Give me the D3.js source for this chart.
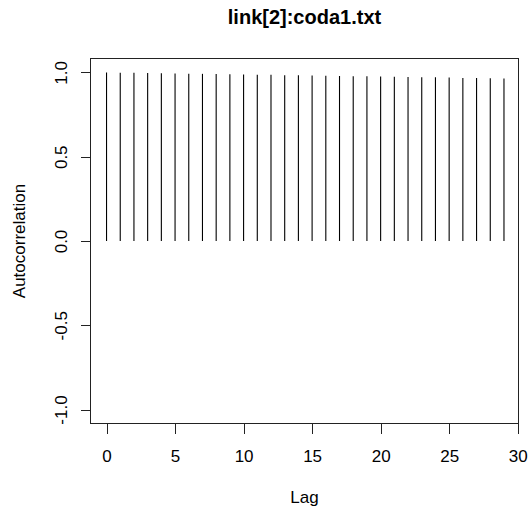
<!DOCTYPE html>
<html>
<head>
<meta charset="utf-8">
<script src="https://cdn.jsdelivr.net/npm/d3@7"></script>
<style>
  html, body { margin: 0; padding: 0; background: #fff; }
  svg { display: block; }
  text { font-family: "Liberation Sans", Arial, sans-serif; fill: #000; }
</style>
</head>
<body>
<svg id="chart" width="528" height="511"></svg>
<script>
// Autocorrelation by lag for link[2]
const lags = d3.range(0, 30);
const acf = [1.000, 0.999, 0.998, 0.997, 0.995, 0.994, 0.993, 0.992, 0.991, 0.989,
             0.988, 0.987, 0.986, 0.984, 0.983, 0.982, 0.981, 0.979, 0.978, 0.977,
             0.976, 0.974, 0.973, 0.972, 0.971, 0.970, 0.968, 0.967, 0.966, 0.965];
const xTicks = [0, 5, 10, 15, 20, 25, 30];
const yTicks = [-1.0, -0.5, 0.0, 0.5, 1.0];
const title = "link[2]:coda1.txt";
const xLabel = "Lag";
const yLabel = "Autocorrelation";

const svg = d3.select("#chart");
const box = { left: 90.5, right: 518.5, top: 58.5, bottom: 423.5 };

const x = d3.scaleLinear().domain([-1.17, 30.06]).range([box.left, box.right]);
const y = d3.scaleLinear().domain([-1.083, 1.083]).range([box.bottom, box.top]);

// spikes from zero
svg.append("g").selectAll("line")
  .data(lags)
  .join("line")
  .attr("x1", (d) => x(d)).attr("x2", (d) => x(d))
  .attr("y1", y(0)).attr("y2", (d, i) => y(acf[i]))
  .attr("stroke", "#000").attr("stroke-width", 1.1);

// plot frame
svg.append("rect")
  .attr("x", box.left).attr("y", box.top)
  .attr("width", box.right - box.left).attr("height", box.bottom - box.top)
  .attr("fill", "none").attr("stroke", "#222").attr("stroke-width", 1)
  .attr("shape-rendering", "crispEdges");

// x axis
const xAxis = d3.axisBottom(x).tickValues(xTicks).tickSize(10).tickPadding(8)
  .tickFormat(d3.format("d"));
const gx = svg.append("g").attr("transform", `translate(0,${box.bottom})`).call(xAxis);
gx.select(".domain").remove();
gx.selectAll(".tick line").attr("stroke", "#222").attr("shape-rendering", "crispEdges");
gx.selectAll(".tick text")
  .attr("font-size", 17).attr("font-family", "Liberation Sans, Arial, sans-serif")
  .attr("fill", "#000").attr("dy", null).attr("y", 38.5);

// y axis with rotated labels (plain hyphen for negatives)
const fmtY = (d) => d3.format(".1f")(d).replace("\u2212", "-");
const yAxis = d3.axisLeft(y).tickValues(yTicks).tickSize(10).tickFormat(fmtY);
const gy = svg.append("g").attr("transform", `translate(${box.left},0)`).call(yAxis);
gy.select(".domain").remove();
gy.selectAll(".tick line").attr("stroke", "#222").attr("shape-rendering", "crispEdges");
gy.selectAll(".tick text")
  .attr("font-size", 17).attr("font-family", "Liberation Sans, Arial, sans-serif")
  .attr("fill", "#000")
  .attr("x", null).attr("dy", null)
  .attr("text-anchor", "middle")
  .attr("transform", "translate(-23.5,0) rotate(-90)");

// titles
svg.append("text")
  .attr("x", (box.left + box.right) / 2).attr("y", 24)
  .attr("text-anchor", "middle").attr("font-size", 20).attr("font-weight", "bold")
  .text(title);

svg.append("text")
  .attr("x", (box.left + box.right) / 2).attr("y", 503)
  .attr("text-anchor", "middle").attr("font-size", 17)
  .text(xLabel);

svg.append("text")
  .attr("transform", `translate(25,${(box.top + box.bottom) / 2}) rotate(-90)`)
  .attr("text-anchor", "middle").attr("font-size", 17)
  .text(yLabel);
</script>
</body>
</html>
